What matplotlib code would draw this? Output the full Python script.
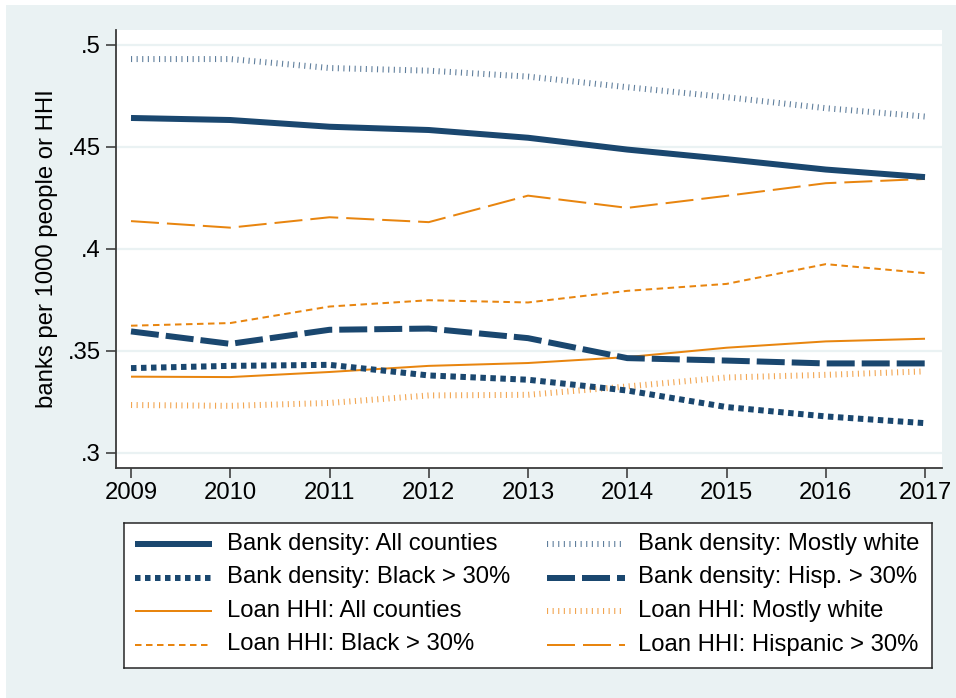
import matplotlib
matplotlib.use("Agg")
import matplotlib.pyplot as plt
from matplotlib.patches import Rectangle
from matplotlib.lines import Line2D

plt.rcParams['font.family'] = ['Liberation Sans', 'DejaVu Sans']
plt.rcParams['lines.scale_dashes'] = False

years = [2009, 2010, 2011, 2012, 2013, 2014, 2015, 2016, 2017]

bank_all = [.4642, .4632, .4599, .4583, .4545, .4487, .4440, .4389, .4352]
bank_white = [.4931, .4931, .4887, .4874, .4845, .4793, .4744, .4690, .4649]
bank_black = [.3415, .3426, .3431, .3379, .3358, .3305, .3224, .3178, .3145]
bank_hisp = [.3595, .3534, .3603, .3609, .3562, .3464, .3452, .3438, .3438]
loan_all = [.3373, .3371, .3396, .3426, .3440, .3469, .3515, .3546, .3559]
loan_white = [.3234, .3230, .3244, .3281, .3284, .3325, .3369, .3382, .3399]
loan_black = [.3623, .3636, .3717, .3748, .3737, .3794, .3828, .3925, .3881]
loan_hisp = [.4136, .4104, .4155, .4131, .4261, .4201, .4260, .4322, .4343]

yticks = [.3, .35, .4, .45, .5]
ytick_labels = ['.3', '.35', '.4', '.45', '.5']
ylabel = 'banks per 1000 people or HHI'

NAVY = '#1A476F'
ORANGE = '#E8850F'
NAVY_LIGHT = '#5F7E9C'
ORANGE_LIGHT = '#F2A550'
BG = '#EAF2F3'

PX = 72.0 / 100.0  # points per pixel at dpi=100
FS = 17.2

def px(v):
    return v * PX

# style definitions: (label, data, color, linewidth_px, dashes_px or None)
series = [
    ('Bank density: All counties', bank_all, NAVY, 6.0, None),
    ('Bank density: Mostly white', bank_white, NAVY_LIGHT, 6.0, (1.1, 4.5)),
    ('Bank density: Black > 30%', bank_black, NAVY, 6.0, (5.5, 4.5)),
    ('Bank density: Hisp. > 30%', bank_hisp, NAVY, 6.0, (28, 7)),
    ('Loan HHI: All counties', loan_all, ORANGE, 2.0, None),
    ('Loan HHI: Mostly white', loan_white, ORANGE_LIGHT, 6.0, (1.1, 4.5)),
    ('Loan HHI: Black > 30%', loan_black, ORANGE, 2.0, (6.5, 4.5)),
    ('Loan HHI: Hispanic > 30%', loan_hisp, ORANGE, 2.0, (28, 8)),
]

W, H = 956, 698
fig = plt.figure(figsize=(W / 100, H / 100), dpi=100)
fig.patch.set_facecolor('white')
bg = Rectangle((6 / W, 0), 1, (H - 5) / H, transform=fig.transFigure,
               facecolor=BG, edgecolor='none', zorder=-10)
fig.add_artist(bg)

AX_L, AX_R, AX_T, AX_B = 116, 942, 30, 468
ax = fig.add_axes([AX_L / W, (H - AX_B) / H, (AX_R - AX_L) / W, (AX_B - AX_T) / H])
ax.set_facecolor('white')

def style_line(line, lw_px, dashes):
    line.set_linewidth(px(lw_px))
    if dashes is not None:
        line.set_dashes([px(d) for d in dashes])
        line.set_dash_capstyle('butt')
    line.set_solid_capstyle('butt')

# draw order: light lines first
order = [1, 5, 4, 6, 7, 3, 2, 0]
for i in order:
    label, data, color, lw, dashes = series[i]
    ln, = ax.plot(years, data, color=color)
    style_line(ln, lw, dashes)

ax.set_xlim(2009 - 15 / 99.25, 2017 + 17 / 99.25)
ax.set_ylim(.3 - 15.3 / 2040, .5 + 15 / 2040)
ax.set_yticks(yticks)
ax.set_yticklabels(ytick_labels)
ax.set_xticks(years)
ax.set_xticklabels([str(y) for y in years])
ax.grid(axis='y', color=BG, linewidth=px(2.2))
ax.set_axisbelow(True)
for s in ['top', 'right']:
    ax.spines[s].set_visible(False)
for s in ['left', 'bottom']:
    ax.spines[s].set_color('#3a3a3a')
    ax.spines[s].set_linewidth(px(1.8))
ax.tick_params(axis='both', direction='out', length=px(10), width=px(1.6),
               color='#3a3a3a', labelsize=FS, labelcolor='black')
ax.tick_params(axis='x', pad=px(4))
ax.tick_params(axis='y', pad=px(5))
ax.set_ylabel(ylabel, fontsize=FS, va='center')
ax.yaxis.set_label_coords((47 - AX_L) / (AX_R - AX_L), 0.5)

# legend (manual, pixel coordinates inside the box)
lx0, lx1, ly0, ly1 = 124, 932, 523, 668
lax = fig.add_axes([lx0 / W, (H - ly1) / H, (lx1 - lx0) / W, (ly1 - ly0) / H])
lax.set_xlim(0, lx1 - lx0)
lax.set_ylim(ly1 - ly0, 0)
lax.set_xticks([])
lax.set_yticks([])
lax.set_facecolor('white')
for s in lax.spines.values():
    s.set_color('#222222')
    s.set_linewidth(px(1.5))

rows = [21, 54.5, 88, 121.5]
legend_layout = [
    (0, 0, 0), (1, 0, 1),
    (2, 1, 0), (3, 1, 1),
    (4, 2, 0), (5, 2, 1),
    (6, 3, 0), (7, 3, 1),
]
cols = [(11, 88, 103), (423, 501, 514)]
for idx, r, c in legend_layout:
    label, data, color, lw, dashes = series[idx]
    hx0, hx1, tx = cols[c]
    y = rows[r]
    ln = Line2D([hx0, hx1], [y, y], color=color)
    style_line(ln, lw, dashes)
    lax.add_line(ln)
    lax.text(tx, y, label, fontsize=FS, va='center', ha='left')

fig.savefig('out.png', dpi=100, facecolor=fig.get_facecolor())
